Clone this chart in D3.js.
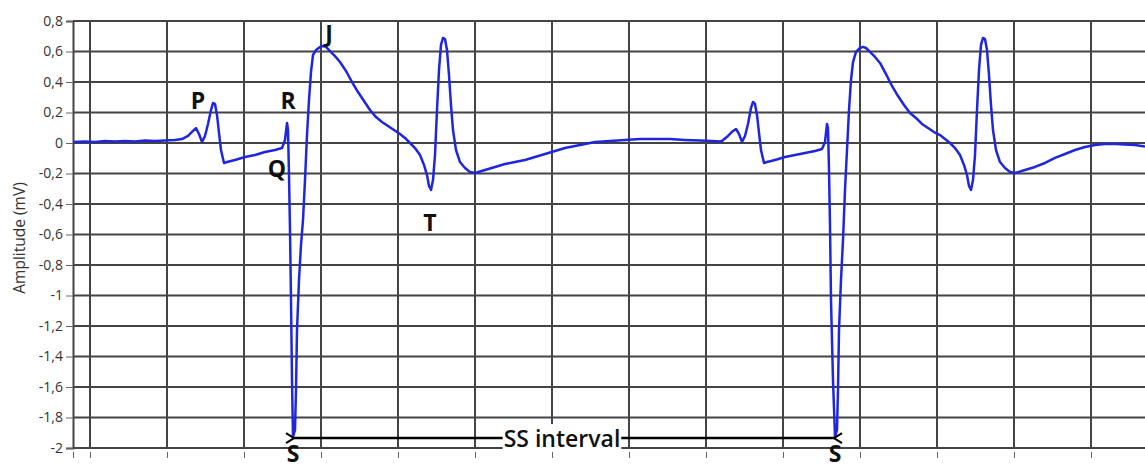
<!DOCTYPE html>
<html>
<head>
<meta charset="utf-8">
<script src="https://cdn.jsdelivr.net/npm/d3@7"></script>
<style>
  body { margin: 0; background: #fff; }
  svg { display: block; }
</style>
</head>
<body>
<div id="my_dataviz"></div>
<script>
// —————————— DATA
// ECG trace: sample number (fs = 770 Hz) and amplitude (mV)
var fs = 770;

var sampleNo = [753, 765, 775, 785, 795, 805, 815, 825, 835, 845, 855, 862, 868, 873, 876, 879,
  882, 885, 888, 891, 893, 895, 897, 899, 901, 904, 907, 915, 925, 935, 945, 955, 962, 965,
  967, 968, 969, 970, 971, 972, 973, 975, 976, 977, 979, 981, 983, 985, 987, 989, 991, 993,
  996, 1000, 1003, 1006, 1010, 1015, 1020, 1026, 1032, 1038, 1044, 1050, 1056, 1062, 1068,
  1074, 1080, 1085, 1090, 1095, 1100, 1104, 1107, 1109, 1111, 1113, 1115, 1117, 1119, 1121,
  1123, 1125, 1127, 1129, 1131, 1133, 1136, 1140, 1145, 1150, 1155, 1165, 1175, 1185, 1195,
  1205, 1215, 1225, 1235, 1245, 1255, 1265, 1275, 1290, 1305, 1320, 1335, 1350, 1365, 1380,
  1392, 1400,
  1402, 1408, 1413, 1416, 1419, 1422, 1425, 1428, 1431, 1433, 1435, 1437, 1439, 1441, 1444,
  1447, 1455, 1465, 1475, 1485, 1495, 1502, 1505, 1507, 1508, 1509, 1510, 1511, 1513, 1515,
  1517, 1518, 1519, 1521, 1523, 1525, 1527, 1529, 1531, 1533, 1536, 1540, 1543, 1546, 1550,
  1555, 1560, 1566, 1572, 1578, 1584, 1590, 1596, 1602, 1608, 1614, 1620, 1625, 1630, 1635,
  1640, 1644, 1647, 1649, 1651, 1653, 1655, 1657, 1659, 1661, 1663, 1665, 1667, 1669, 1671,
  1673, 1676, 1680, 1685, 1690, 1695, 1705, 1715, 1725, 1735, 1745, 1755, 1765, 1775, 1785,
  1795, 1805, 1815, 1825];

var amplitudeMv = [0.007, 0.010, 0.007, 0.013, 0.010, 0.013, 0.010, 0.016, 0.013, 0.016, 0.020,
  0.026, 0.046, 0.079, 0.098, 0.059, 0.007, 0.046, 0.125, 0.216, 0.262, 0.256, 0.184, 0.066,
  -0.046, -0.131, -0.125, -0.111, -0.092, -0.079, -0.059, -0.046, -0.033, 0.020, 0.131, 0.085,
  -0.210, -0.570, -1.030, -1.554, -1.928, -1.882, -1.620, -1.226, -0.898, -0.669, -0.505,
  -0.243, 0.052, 0.282, 0.466, 0.577, 0.610, 0.630, 0.636, 0.630, 0.603, 0.570, 0.531, 0.472,
  0.400, 0.334, 0.275, 0.216, 0.170, 0.138, 0.111, 0.085, 0.059, 0.033, 0.0, -0.033, -0.079,
  -0.144, -0.210, -0.282, -0.308, -0.243, -0.079, 0.216, 0.479, 0.643, 0.689, 0.682, 0.610,
  0.446, 0.249, 0.085, -0.046, -0.125, -0.164, -0.190, -0.197, -0.177, -0.157, -0.138, -0.125,
  -0.111, -0.092, -0.072, -0.052, -0.033, -0.020, -0.007, 0.007, 0.013, 0.020, 0.026, 0.026,
  0.026, 0.020, 0.016, 0.013, 0.010,
  0.013, 0.046, 0.079, 0.092, 0.059, 0.007, 0.046, 0.125, 0.230, 0.269, 0.256, 0.184, 0.066,
  -0.046, -0.131, -0.125, -0.111, -0.092, -0.079, -0.066, -0.052, -0.039, 0.007, 0.125, 0.098,
  -0.177, -0.538, -1.030, -1.554, -1.928, -1.882, -1.620, -1.226, -0.898, -0.636, -0.308,
  -0.046, 0.216, 0.413, 0.531, 0.597, 0.623, 0.630, 0.623, 0.597, 0.564, 0.525, 0.452, 0.374,
  0.308, 0.249, 0.197, 0.164, 0.125, 0.098, 0.072, 0.052, 0.026, 0.0, -0.033, -0.079, -0.144,
  -0.210, -0.282, -0.308, -0.243, -0.079, 0.216, 0.479, 0.643, 0.689, 0.682, 0.610, 0.446,
  0.249, 0.085, -0.046, -0.125, -0.164, -0.190, -0.197, -0.177, -0.157, -0.131, -0.098, -0.072,
  -0.046, -0.026, -0.013, -0.007, -0.007, -0.010, -0.013, -0.023];

var yTicks = [0.8, 0.6, 0.4, 0.2, 0, -0.2, -0.4, -0.6, -0.8, -1, -1.2, -1.4, -1.6, -1.8, -2];
var xTicks = [753 / fs, 1.0, 1.1, 1.2, 1.3, 1.4, 1.5, 1.6, 1.7, 1.8, 1.9, 2.0, 2.1, 2.2, 2.3];
var xGrid = [1.0, 1.1, 1.2, 1.3, 1.4, 1.5, 1.6, 1.7, 1.8, 1.9, 2.0, 2.1, 2.2, 2.3];

// wave labels: name, sample number, amplitude of text baseline
var waveNames = ["P", "R", "Q", "J", "T", "S", "S"];
var waveSamples = [878, 968, 957, 1009, 1110, 973, 1515];
var waveAmps = [0.223, 0.223, -0.223, 0.662, -0.577, -2.09, -2.09];

// SS interval arrow
var ssStart = 973, ssEnd = 1515, ssMid = 1242, ssLevel = -1.935, ssLabel = "SS interval";

// —————————— LAYOUT
var W = 1145, H = 466;
var margin = {top: 21, left: 73};

var x = d3.scaleLinear()
  .domain([753 / fs, 1825 / fs])
  .range([margin.left, W]);

var y = d3.scaleLinear()
  .domain([-2, 0.8])
  .range([448, margin.top]);

var locale = d3.formatLocale({decimal: ",", thousands: ".", grouping: [3], currency: ["", ""], minus: "-"});
var fmt = locale.format("~g");

var svg = d3.select("#my_dataviz")
  .append("svg")
    .attr("width", W)
    .attr("height", H);

svg.append("defs").append("marker")
    .attr("id", "chev")
    .attr("viewBox", "-1 -6 12 12")
    .attr("refX", 0).attr("refY", 0)
    .attr("markerWidth", 12).attr("markerHeight", 12)
    .attr("markerUnits", "userSpaceOnUse")
    .attr("orient", "auto-start-reverse")
  .append("path")
    .attr("d", "M8,-5L0,0L8,5")
    .attr("fill", "none")
    .attr("stroke", "#000")
    .attr("stroke-width", 2);

// —————————— GRID
var gridColor = "#444";

svg.append("g")
  .selectAll("line.hgrid")
  .data(yTicks)
  .enter().append("line")
    .attr("class", "hgrid")
    .attr("x1", margin.left).attr("x2", W)
    .attr("y1", function(d) { return y(d); })
    .attr("y2", function(d) { return y(d); })
    .attr("stroke", gridColor)
    .attr("stroke-width", 2);

svg.append("g")
  .selectAll("line.vgrid")
  .data(xGrid)
  .enter().append("line")
    .attr("class", "vgrid")
    .attr("x1", function(d) { return x(d); })
    .attr("x2", function(d) { return x(d); })
    .attr("y1", y(0.8) - 1).attr("y2", y(-2))
    .attr("stroke", gridColor)
    .attr("stroke-width", 2);

// Y axis
var yAxis = svg.append("g")
  .attr("transform", "translate(" + margin.left + ",0)")
  .call(d3.axisLeft(y).tickValues(yTicks).tickSize(7).tickPadding(3).tickFormat(fmt));
yAxis.select(".domain").attr("stroke", gridColor).attr("stroke-width", 2);
yAxis.selectAll(".tick line").attr("stroke", "#666").attr("stroke-width", 1);
yAxis.selectAll(".tick text")
  .attr("fill", "#333")
  .style("font-family", "'Open Sans', sans-serif")
  .style("font-size", "14px");

// X axis (its labels fall below the cropped picture)
var xAxis = svg.append("g")
  .attr("transform", "translate(0," + (y(-2) + 4) + ")")
  .call(d3.axisBottom(x).tickValues(xTicks).tickSize(6).tickFormat(""));
xAxis.select(".domain").remove();
xAxis.selectAll(".tick line").attr("stroke", "#666").attr("stroke-width", 1);

svg.append("text")
  .attr("transform", "translate(21,238) rotate(-90)")
  .attr("text-anchor", "middle")
  .attr("dominant-baseline", "middle")
  .attr("fill", "#333")
  .style("font-family", "'Open Sans', sans-serif")
  .style("font-size", "15.5px")
  .text("Amplitude (mV)");

// —————————— TRACE
var line = d3.line()
  .x(function(d, i) { return x(sampleNo[i] / fs); })
  .y(function(d) { return y(d); });

svg.append("path")
  .datum(amplitudeMv)
  .attr("d", line)
  .attr("fill", "none")
  .attr("stroke", "#1f26e0")
  .attr("stroke-width", 2.5)
  .attr("stroke-linejoin", "round");

// —————————— ANNOTATIONS
svg.append("g")
  .selectAll("text.wave")
  .data(waveNames)
  .enter().append("text")
    .attr("class", "wave")
    .attr("x", function(d, i) { return x(waveSamples[i] / fs); })
    .attr("y", function(d, i) { return y(waveAmps[i]); })
    .attr("text-anchor", "middle")
    .attr("fill", "#111")
    .style("font-family", "'Open Sans', sans-serif")
    .style("font-weight", "bold")
    .style("font-size", "23px")
    .text(function(d) { return d; });

svg.append("line")
  .attr("x1", x(ssStart / fs) + 1).attr("x2", x(ssEnd / fs) - 1)
  .attr("y1", y(ssLevel)).attr("y2", y(ssLevel))
  .attr("stroke", "#000")
  .attr("stroke-width", 2.5)
  .attr("marker-start", "url(#chev)")
  .attr("marker-end", "url(#chev)");

var ssText = svg.append("text")
  .attr("x", x(ssMid / fs))
  .attr("y", y(ssLevel))
  .attr("text-anchor", "middle")
  .attr("dominant-baseline", "central")
  .attr("fill", "#111")
  .style("font-family", "'Open Sans', sans-serif")
  .style("font-weight", "600")
  .style("font-size", "23px")
  .text(ssLabel);

var bb = ssText.node().getBBox();
svg.insert("rect", function() { return ssText.node(); })
  .attr("x", bb.x - 1).attr("y", bb.y + 2)
  .attr("width", bb.width + 2).attr("height", bb.height - 4)
  .attr("fill", "#fff");
</script>
</body>
</html>
